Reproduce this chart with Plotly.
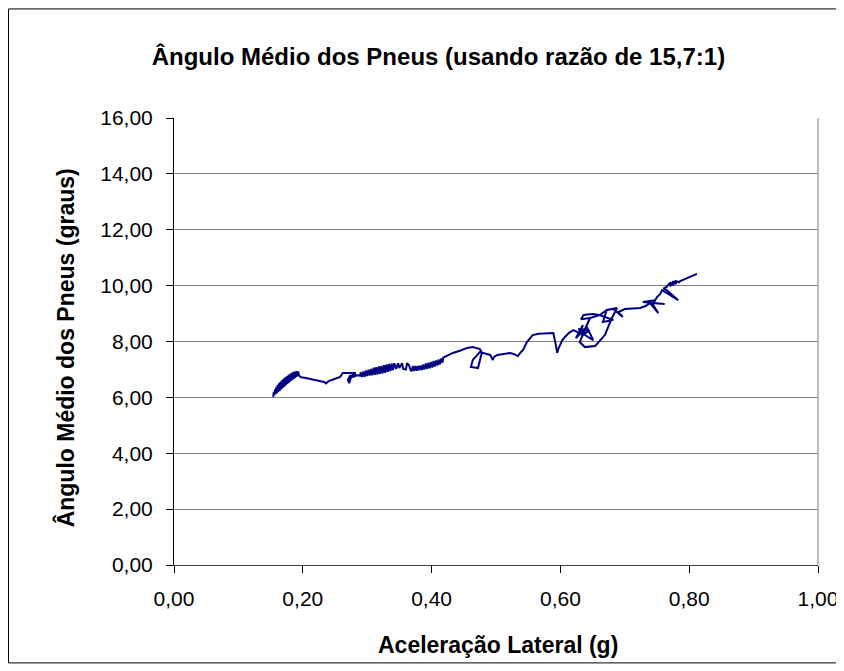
import plotly.graph_objects as go

# Trace (lateral acceleration in g, mean tyre angle in degrees)
acel_lateral = [
    # dense start cluster
    0.154, 0.155, 0.156, 0.157, 0.158, 0.159, 0.160, 0.161, 0.162, 0.163, 0.164, 0.165,
    0.166, 0.167, 0.168, 0.169, 0.170, 0.171, 0.172, 0.173, 0.174, 0.175, 0.176, 0.177,
    0.178, 0.179, 0.180, 0.181, 0.182, 0.183, 0.184, 0.185, 0.186, 0.187, 0.188, 0.189,
    0.190, 0.191, 0.192, 0.193, 0.194,
    0.197, 0.203, 0.211, 0.220, 0.228, 0.233, 0.236, 0.240, 0.248, 0.258, 0.262, 0.281,
    0.281, 0.275, 0.272, 0.270, 0.273, 0.278, 0.289,
    # second cluster
    0.290, 0.292, 0.294, 0.296, 0.298, 0.300, 0.302, 0.304, 0.306, 0.308, 0.310, 0.312,
    0.314, 0.316, 0.318, 0.320, 0.322, 0.324, 0.326, 0.328, 0.330, 0.332, 0.334, 0.336,
    0.338, 0.340, 0.342, 0.345, 0.348, 0.350, 0.354, 0.356, 0.360, 0.362, 0.365, 0.367,
    0.369, 0.371, 0.373, 0.375, 0.377, 0.379, 0.381, 0.383, 0.385, 0.387, 0.389, 0.391,
    0.393, 0.395, 0.397, 0.399, 0.401, 0.403, 0.405, 0.407, 0.409, 0.411, 0.413, 0.415,
    0.417, 0.418,
    0.433, 0.445, 0.455, 0.464, 0.475, 0.478, 0.472, 0.461, 0.464, 0.475, 0.483, 0.491,
    0.495, 0.497, 0.502, 0.512, 0.522, 0.528, 0.534, 0.538, 0.542, 0.548, 0.557, 0.566,
    0.576, 0.589, 0.593, 0.595, 0.597, 0.599, 0.603, 0.607, 0.613, 0.620, 0.625, 0.630,
    0.635, 0.624, 0.641, 0.651, 0.638, 0.628, 0.645, 0.633, 0.646, 0.661, 0.682, 0.666,
    0.672, 0.688, 0.680, 0.669, 0.654, 0.638, 0.630, 0.638, 0.646, 0.632, 0.636, 0.650,
    0.661, 0.672, 0.682, 0.697, 0.690, 0.700, 0.712, 0.724, 0.733, 0.739, 0.752, 0.742,
    0.762, 0.742, 0.728, 0.747, 0.744, 0.750, 0.755, 0.758, 0.783, 0.765, 0.760, 0.765,
    0.768, 0.772, 0.770, 0.776, 0.774, 0.780, 0.778, 0.784, 0.786, 0.797, 0.812,
]
angulo_medio = [
    6.02, 6.20, 6.08, 6.30, 6.12, 6.38, 6.15, 6.45, 6.20, 6.50, 6.22, 6.55,
    6.28, 6.60, 6.32, 6.64, 6.36, 6.68, 6.40, 6.72, 6.45, 6.75, 6.48, 6.78,
    6.52, 6.82, 6.56, 6.85, 6.60, 6.88, 6.63, 6.90, 6.66, 6.92, 6.70, 6.93,
    6.73, 6.94, 6.76, 6.92, 6.78,
    6.72, 6.70, 6.66, 6.62, 6.60, 6.55, 6.50, 6.58, 6.65, 6.73, 6.87, 6.87,
    6.76, 6.72, 6.51, 6.62, 6.76, 6.80, 6.78,
    6.90, 6.73, 6.93, 6.74, 6.96, 6.76, 6.99, 6.78, 7.02, 6.79, 7.06, 6.81,
    7.08, 6.82, 7.11, 6.84, 7.13, 6.86, 7.15, 6.88, 7.18, 6.91, 7.20, 6.94,
    7.21, 6.98, 7.22, 7.02, 7.22, 7.05, 7.22, 7.02, 7.00, 7.22, 7.15, 7.00,
    6.93, 7.12, 6.94, 7.12, 6.95, 7.12, 6.97, 7.14, 6.98, 7.18, 7.00, 7.21,
    7.02, 7.24, 7.04, 7.27, 7.07, 7.30, 7.10, 7.32, 7.14, 7.36, 7.18, 7.39,
    7.24, 7.42,
    7.59, 7.68, 7.77, 7.80, 7.73, 7.60, 7.05, 7.09, 7.34, 7.62, 7.58, 7.52,
    7.34, 7.45, 7.52, 7.55, 7.59, 7.55, 7.48, 7.60, 7.70, 7.98, 8.23, 8.28,
    8.30, 8.30, 7.87, 7.59, 7.75, 7.87, 8.05, 8.16, 8.30, 8.41, 8.35, 8.30,
    8.59, 8.12, 8.52, 8.05, 8.23, 8.45, 8.40, 8.20, 8.84, 8.95, 8.77, 8.70,
    9.13, 9.20, 8.84, 8.23, 7.84, 7.80, 7.98, 8.41, 8.84, 8.80, 8.95, 8.98,
    8.95, 9.13, 9.16, 8.88, 9.05, 9.16, 9.18, 9.20, 9.28, 9.38, 9.02, 9.38,
    9.34, 9.38, 9.41, 9.48, 9.35, 9.59, 9.70, 9.84, 9.48, 9.84, 9.90, 9.95,
    10.05, 9.98, 10.12, 10.02, 10.15, 10.06, 10.18, 10.12, 10.16, 10.27, 10.42,
]

x_ticks = [0.0, 0.2, 0.4, 0.6, 0.8, 1.0]
y_ticks = [0, 2, 4, 6, 8, 10, 12, 14, 16]

FONT = "Liberation Sans, Arial, sans-serif"

fig = go.Figure()
fig.add_trace(go.Scatter(x=acel_lateral, y=angulo_medio, mode="lines",
                         line=dict(color="#000080", width=2), showlegend=False))

fig.update_layout(
    width=844, height=671,
    margin=dict(l=166, r=34, t=110, b=114),
    paper_bgcolor="white", plot_bgcolor="white",
    separators=",.",
    font=dict(family=FONT, size=21, color="black"),
    title=dict(text="<b>Ângulo Médio dos Pneus (usando razão de 15,7:1)</b>",
               x=0.51, xanchor="center", y=0.927, yanchor="middle",
               font=dict(family=FONT, size=24)),
)
fig.update_xaxes(range=[0, 1], tickvals=x_ticks, tickformat=".2f",
                 showgrid=False, zeroline=False,
                 showline=True, linecolor="#404040", linewidth=1, mirror=False,
                 ticks="outside", ticklen=7, tickcolor="black", ticklabelstandoff=8)
fig.update_yaxes(range=[0, 16], tickvals=y_ticks, tickformat=".2f",
                 showgrid=True, gridcolor="#808080", gridwidth=1, zeroline=False,
                 showline=True, linecolor="black", linewidth=1,
                 ticks="outside", ticklen=7, tickcolor="black", ticklabelstandoff=9)

# right edge of the plot area
fig.add_shape(type="line", xref="paper", yref="paper", x0=1, x1=1, y0=0, y1=1,
              line=dict(color="#808080", width=1))
# outer chart border
fig.add_shape(type="rect", xref="paper", yref="paper",
              x0=-0.257, x1=1.031, y0=-0.219, y1=1.244,
              line=dict(color="black", width=1))

fig.add_annotation(text="<b>Aceleração Lateral (g)</b>", xref="paper", yref="paper",
                   x=0.503, y=-0.179, xanchor="center", yanchor="middle",
                   showarrow=False, font=dict(family=FONT, size=23))
fig.add_annotation(text="<b>Ângulo Médio dos Pneus (graus)</b>", xref="paper", yref="paper",
                   x=-0.169, y=0.485, xanchor="center", yanchor="middle", textangle=-90,
                   showarrow=False, font=dict(family=FONT, size=23))

fig.write_html("out.html")
